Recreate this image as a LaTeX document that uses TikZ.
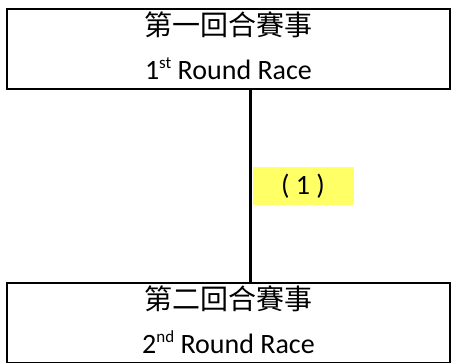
\documentclass[tikz,border=0pt]{standalone}
\usepackage{fontspec}
\setmainfont{Carlito}
\newfontfamily\cjk{Noto Sans CJK TC}
\usepackage{xcolor}
\definecolor{labelyellow}{RGB}{255,255,102}
\newcommand{\racesup}[1]{\raisebox{0.42em}{\fontsize{17}{17}\selectfont #1}}

\tikzset{
  racebox/.style={draw, line width=2.5pt, minimum width=443pt, minimum height=80pt,
    align=center, inner sep=0pt, text depth=6pt, font=\fontsize{28}{44}\selectfont},
  steplabel/.style={fill=labelyellow, minimum width=101pt, minimum height=38pt,
    inner sep=0pt, font=\fontsize{28}{34}\selectfont}
}

\begin{document}
\begin{tikzpicture}[x=1pt,y=-1pt]
        \useasboundingbox (0,0) rectangle (454,362);

        \node[racebox] (r1) at (228.5,49) {{\cjk 第一回合賽事}\\1\racesup{st} Round Race};
        \node[racebox] (r2) at (228.5,323) {{\cjk 第二回合賽事}\\2\racesup{nd} Round Race};

        \draw[-, line width=3pt] ([xshift=21.5pt]r1.south) -- node[steplabel, anchor=west, xshift=1pt] (n1) {( 1 )} ([xshift=21.5pt]r2.north);
    \end{tikzpicture}
\end{document}
